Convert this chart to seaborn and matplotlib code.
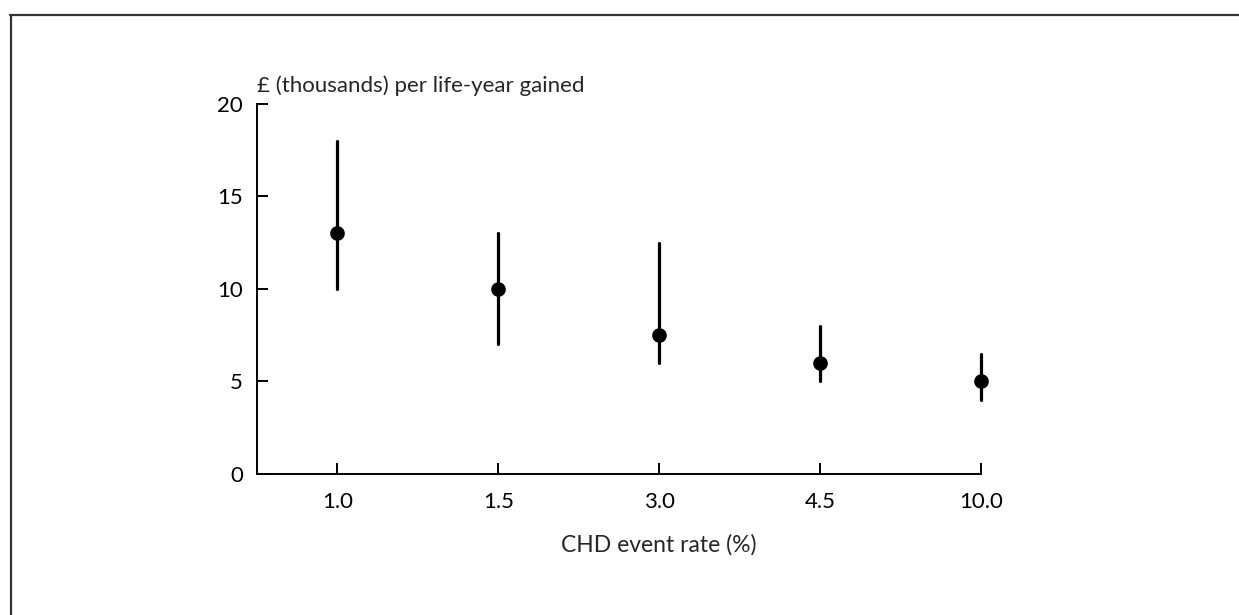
import numpy as np
import pandas as pd
import matplotlib
matplotlib.use("Agg")
import matplotlib.pyplot as plt
import matplotlib.transforms as mtransforms
from matplotlib.lines import Line2D
import seaborn as sns

# CHD event rate categories and cost per life-year gained (thousands of pounds)
event_rates = ["1.0", "1.5", "3.0", "4.5", "10.0"]
estimate = [13.0, 10.0, 7.5, 6.0, 5.0]
lower = [10.0, 7.0, 6.0, 5.0, 4.0]
upper = [18.0, 13.0, 12.5, 8.0, 6.5]
y_ticks = [0, 5, 10, 15, 20]

# long form: low / estimate / high per category, median gives the point
rows = []
for r, lo, est, hi in zip(event_rates, lower, estimate, upper):
    for v in (lo, est, hi):
        rows.append({"rate": r, "cost": v})
df = pd.DataFrame(rows)

sns.set_style("white")
plt.rcParams['font.family'] = ['Lato', 'DejaVu Sans']

fig = plt.figure(figsize=(12.39, 6.15), dpi=100)
ax = fig.add_axes([0.2074, 0.2293, 0.5844, 0.6016])

sns.pointplot(data=df, x="rate", y="cost", order=event_rates,
              estimator=np.median, errorbar=lambda v: (v.min(), v.max()),
              color="black", markers="o", linestyle="none",
              markersize=8.5, err_kws={"linewidth": 2.3}, ax=ax)

for art in ax.get_children():
    try:
        art.set_clip_on(False)
    except Exception:
        pass

ax.set_xlim(-0.5, 4)
ax.set_ylim(0, 20)
ax.set_yticks(y_ticks)
ax.set_xlabel("")
ax.set_ylabel("")
sns.despine(ax=ax)
for s in ("left", "bottom"):
    ax.spines[s].set_linewidth(1.4)
    ax.spines[s].set_color("black")
ax.tick_params(bottom=True, left=True, direction="in", length=8, width=1.4,
               colors="black", labelsize=16, pad=10)
ax.tick_params(axis="x", pad=13)

ax.text(0, 1 + 12 / 370, "£ (thousands) per life-year gained",
        transform=ax.transAxes, ha="left", va="baseline", fontsize=16)
trans = mtransforms.blended_transform_factory(ax.transData, fig.transFigure)
ax.text(2, 1 - 552 / 615, "CHD event rate (%)", transform=trans,
        ha="center", va="baseline", fontsize=16.5)

# frame lines at top and left of the figure
fig.add_artist(Line2D([9.5 / 1239, 1], [1 - 15 / 615, 1 - 15 / 615],
                      color="#333333", linewidth=1.6, transform=fig.transFigure))
fig.add_artist(Line2D([10.5 / 1239, 10.5 / 1239], [0, 1 - 15 / 615],
                      color="#333333", linewidth=1.6, transform=fig.transFigure))

fig.savefig("out.png", dpi=100)
